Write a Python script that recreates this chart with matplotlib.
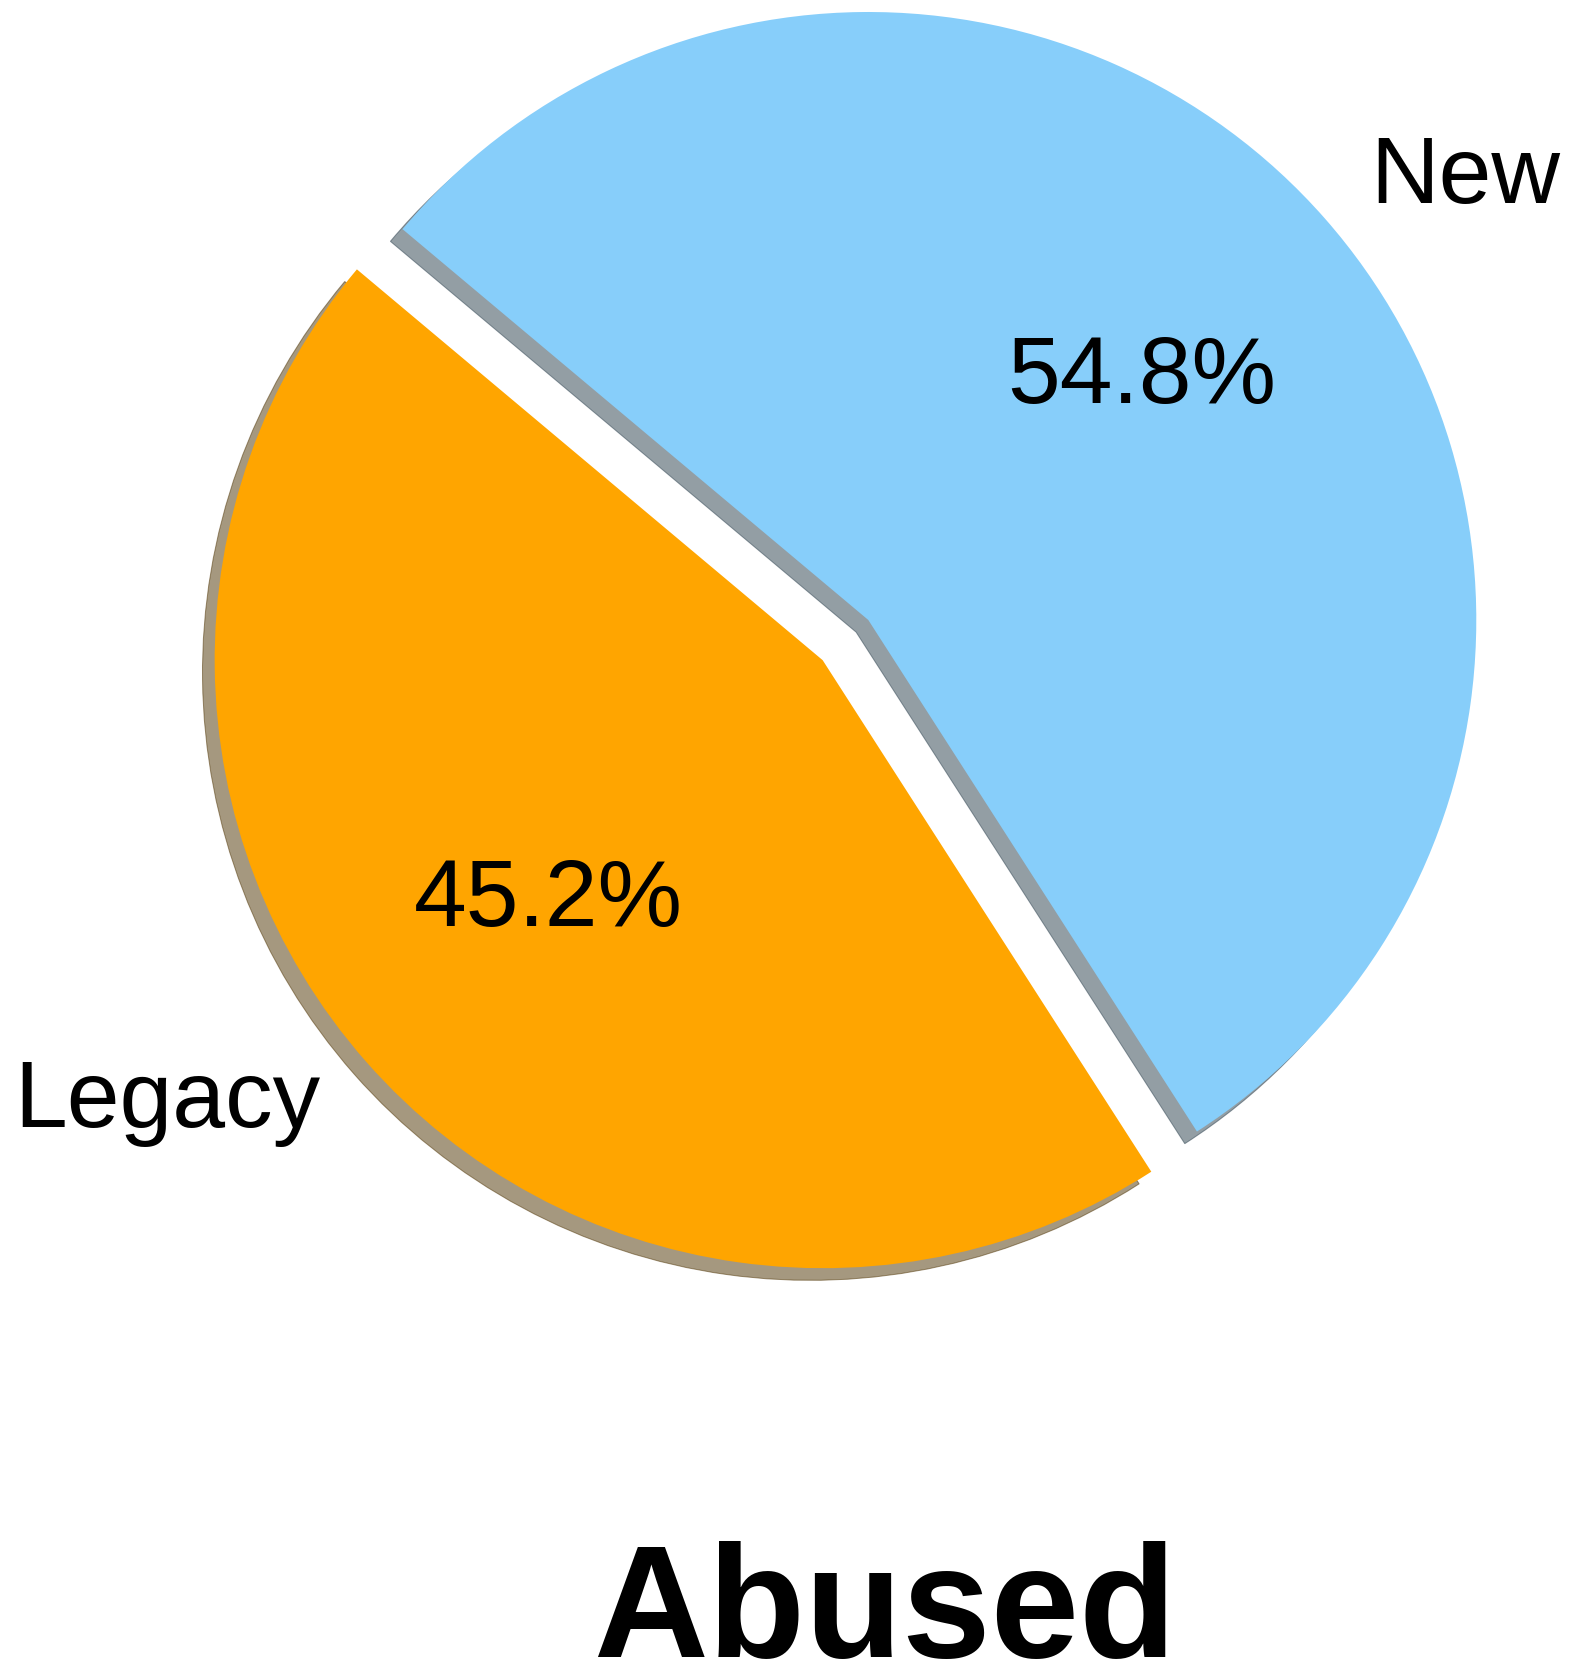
import matplotlib
matplotlib.use('Agg')
import matplotlib.pyplot as plt

plt.rcParams['font.family'] = ['Liberation Sans', 'DejaVu Sans']

# share of abused APIs
labels = ['Legacy', 'New']
shares = [45.2, 54.8]
colors = ['orange', 'lightskyblue']
explode = (0.1, 0)
title = 'Abused'

fig = plt.figure(figsize=(1573 / 72, 1671 / 72), dpi=72)
ax = fig.add_axes([0, 0, 1, 1])

ax.pie(shares, labels=labels, colors=colors, explode=explode,
       autopct='%1.1f%%', shadow=True, startangle=140,
       textprops={'fontsize': 95})

# radius of 608 px, center at (868, 620) px from top left
r_px = 608.0
cx, cy = 868.3, 620.0
ax.set_xlim(-cx / r_px, (1573 - cx) / r_px)
ax.set_ylim(-(1671 - cy) / r_px, cy / r_px)
ax.set_aspect('auto')
ax.axis('off')

fig.text(885 / 1573, (1671 - 1656.7) / 1671, title, ha='center', va='baseline',
         fontsize=159, fontweight='bold')

plt.savefig('out.png', dpi=72)
